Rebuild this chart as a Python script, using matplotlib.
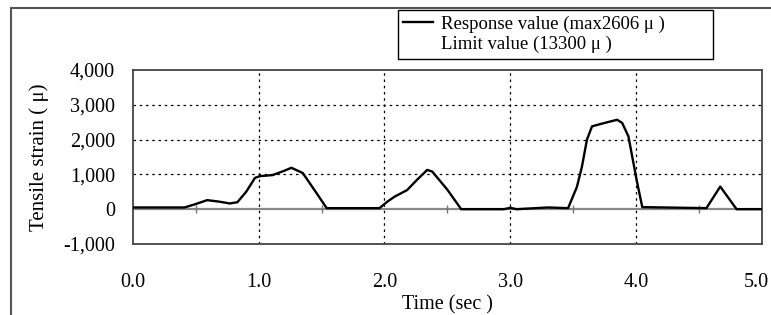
import matplotlib.pyplot as plt
import numpy as np
from matplotlib.lines import Line2D
from matplotlib.ticker import FuncFormatter
from matplotlib.transforms import offset_copy

# strain trace (time in sec, strain in micro)
time_sec = [0.00, 0.41, 0.50, 0.59, 0.68, 0.77, 0.83, 0.90, 0.97, 1.01, 1.11, 1.20,
            1.26, 1.35, 1.46, 1.54, 1.96, 2.02, 2.08, 2.18, 2.26, 2.34, 2.38, 2.50,
            2.61, 2.95, 3.00, 3.05, 3.30, 3.46, 3.53, 3.57, 3.61, 3.65, 3.73, 3.85,
            3.89, 3.94, 3.97, 4.01, 4.05, 4.56, 4.67, 4.80, 5.00]
strain = [50, 50, 150, 260, 220, 165, 200, 500, 900, 950, 980, 1100,
          1190, 1040, 460, 30, 30, 210, 360, 550, 850, 1130, 1080, 560,
          0, 0, 40, 0, 50, 30, 640, 1220, 2000, 2380, 2460, 2570,
          2480, 2090, 1510, 750, 60, 30, 650, 0, 0]

response_max = 2606
limit_value = 13300

x_ticks = [0.0, 1.0, 2.0, 3.0, 4.0, 5.0]
y_ticks = [-1000, 0, 1000, 2000, 3000, 4000]
half_ticks = [0.5, 1.5, 2.5, 3.5, 4.5]

plt.rcParams['font.family'] = ['Liberation Serif', 'DejaVu Serif']

fig = plt.figure(figsize=(7.71, 3.15), dpi=100)
ax = fig.add_axes([0.1725, 0.2254, 0.8155, 0.5524])

# grid (dashed) and zero line
for v in y_ticks[2:-1]:
    ax.axhline(v, color='black', lw=0.9, ls=(0, (2, 3)), zorder=1)
for v in x_ticks[1:-1]:
    ax.axvline(v, color='black', lw=0.9, ls=(0, (2, 3)), zorder=1)
ax.axhline(0, color='#888888', lw=1.6, zorder=2)
ax.plot(half_ticks, np.zeros(len(half_ticks)), ls='none', marker='|', ms=6,
        color='#777777', mew=1.0, zorder=2)

resp, = ax.plot(time_sec, strain, color='black', lw=1.7, zorder=3)
lim = ax.axhline(limit_value, color='none')

ax.set_xlim(0, 5)
ax.set_ylim(-1000, 4000)
ax.set_xticks(x_ticks)
ax.set_yticks(y_ticks)
ax.xaxis.set_major_formatter(FuncFormatter(lambda v, p: f'{v:.1f}'))
ax.yaxis.set_major_formatter(FuncFormatter(lambda v, p: f'{int(v):,}'))
ax.tick_params(axis='both', length=0, labelsize=14.5)
ax.tick_params(axis='x', pad=21)
ax.tick_params(axis='y', pad=13)
for s in ax.spines.values():
    s.set_color('#444444')
    s.set_linewidth(1.3)

ax.set_xlabel('Time (sec )', fontsize=14.5, labelpad=2)
ax.set_ylabel('Tensile strain ( μ)', fontsize=15, labelpad=10)

# last x label sits a bit left so it stays inside the picture
fig.canvas.draw()
last = ax.get_xticklabels()[-1]
last.set_transform(offset_copy(last.get_transform(), fig=fig, x=-5, y=0, units='dots'))

# outer frame of the scanned figure
fig.add_artist(Line2D([0.0143, 0.0143], [0.0, 0.975], color='#555555', lw=1.5))
fig.add_artist(Line2D([0.0143, 1.0], [0.975, 0.975], color='#555555', lw=1.5))

leg = fig.legend([resp, Line2D([], [], color='none')],
                 [f'Response value (max{response_max} μ )', f'Limit value ({limit_value} μ )'],
                 loc='upper left', bbox_to_anchor=(0.516, 0.806, 0.409, 0.162),
                 mode='expand', fontsize=13.5,
                 frameon=True, fancybox=False, edgecolor='black', framealpha=1,
                 handlelength=1.6, handletextpad=0.4, borderpad=0.3,
                 labelspacing=0.15, borderaxespad=0)
leg.get_frame().set_linewidth(1.0)

fig.savefig('out.png', dpi=100)
